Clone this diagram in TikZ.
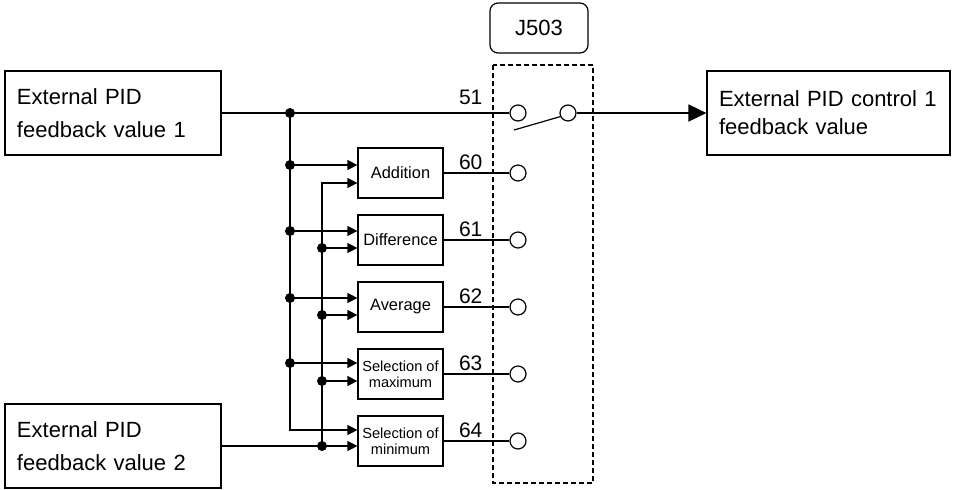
\documentclass[tikz,border=0pt]{standalone}
\usepackage{fontspec}
\setmainfont{Liberation Sans}
\usetikzlibrary{arrows.meta}

\begin{document}
\begin{tikzpicture}[x=0.5pt,y=-0.5pt,line width=0.6pt,
  srcbox/.style={draw,inner xsep=6pt,inner ysep=0pt,text width=96pt,minimum height=42pt,align=left,font=\fontsize{11}{16.5}\selectfont},
  fnbox/.style={draw,inner sep=0pt,minimum width=42.5pt,minimum height=25pt,align=center,font=\fontsize{8.2}{10}\selectfont},
  selbox/.style={fnbox,font=\fontsize{7.3}{8}\selectfont},
  tmnl/.style={draw,circle,fill=white,inner sep=0pt,minimum size=8pt},
  jdot/.style={circle,fill,inner sep=0pt,minimum size=5pt},
  numlab/.style={anchor=base east,inner sep=0pt,font=\fontsize{10.5}{12}\selectfont},
  inarr/.style={-{Triangle[length=5pt,width=5pt]}},
  outarr/.style={line width=0.9pt,-{Triangle[length=9pt,width=8.5pt]}}]
\useasboundingbox (0,0) rectangle (953,489);
\node[srcbox] (fb1) at (113,113) {External PID\\feedback value 1};
\node[srcbox] (fb2) at (113,446) {External PID\\feedback value 2};
\node[draw,inner xsep=6pt,inner ysep=0pt,text width=109.5pt,minimum height=42pt,align=left,font=\fontsize{11}{14}\selectfont] (pidfb) at (828.5,113) {External PID control 1\\feedback value};
\node[draw,rounded corners=4pt,minimum width=49pt,minimum height=25pt,font=\fontsize{11}{13}\selectfont] (j503) at (539,28) {J503};
\draw[dash pattern=on 2.5pt off 1.5pt] (493,65) rectangle (593,483);
\node[fnbox] (add) at (400.5,173) {Addition};
\node[fnbox] (diff) at (400.5,240) {Difference};
\node[fnbox] (avg) at (400.5,307) {Average};
\node[selbox] (max) at (400.5,374) {Selection of\\maximum};
\node[selbox] (min) at (400.5,441) {Selection of\\minimum};
\node[jdot] (a0) at (290,113) {};
\node[jdot] (a1) at (290,165) {};
\node[jdot] (a2) at (290,231) {};
\node[jdot] (a3) at (290,298) {};
\node[jdot] (a4) at (290,363) {};
\node[jdot] (b2) at (322,248) {};
\node[jdot] (b3) at (322,315) {};
\node[jdot] (b4) at (322,381) {};
\node[jdot] (b5) at (322,446) {};
\node[tmnl] (t51) at (518,113) {};
\node[tmnl] (t51s) at (568,113) {};
\node[tmnl] (t60) at (518,173) {};
\node[tmnl] (t61) at (518,240) {};
\node[tmnl] (t62) at (518,307) {};
\node[tmnl] (t63) at (518,374) {};
\node[tmnl] (t64) at (518,441) {};
\node[numlab] (l51) at (483,104) {51};
\node[numlab] (l60) at (483,169) {60};
\node[numlab] (l61) at (483,236) {61};
\node[numlab] (l62) at (483,303) {62};
\node[numlab] (l63) at (483,370) {63};
\node[numlab] (l64) at (483,437) {64};
\coordinate (blade) at (514,130);
\draw (fb1) -- (a0.center) -- (t51);
\draw (a0.center) -- (a1.center) -- (a2.center) -- (a3.center) -- (a4.center);
\draw[inarr] (a4.center) |- ([yshift=5.5pt]min.west);
\draw[inarr] (b5.center) |- ([yshift=-5pt]add.west);
\draw[inarr] (fb2) -- (b5 -| min.west);
\draw[inarr] (a1.center) -- (a1 -| add.west);
\draw[inarr] (a2.center) -- (a2 -| diff.west);
\draw[inarr] (b2.center) -- (b2 -| diff.west);
\draw[inarr] (a3.center) -- (a3 -| avg.west);
\draw[inarr] (b3.center) -- (b3 -| avg.west);
\draw[inarr] (a4.center) -- (a4 -| max.west);
\draw[inarr] (b4.center) -- (b4 -| max.west);
\draw (add) -- (t60);
\draw (diff) -- (t61);
\draw (avg) -- (t62);
\draw (max) -- (t63);
\draw (min) -- (t64);
\draw (blade) -- (t51s.205);
\draw[outarr] (t51s) -- (pidfb);
\end{tikzpicture}
\end{document}
